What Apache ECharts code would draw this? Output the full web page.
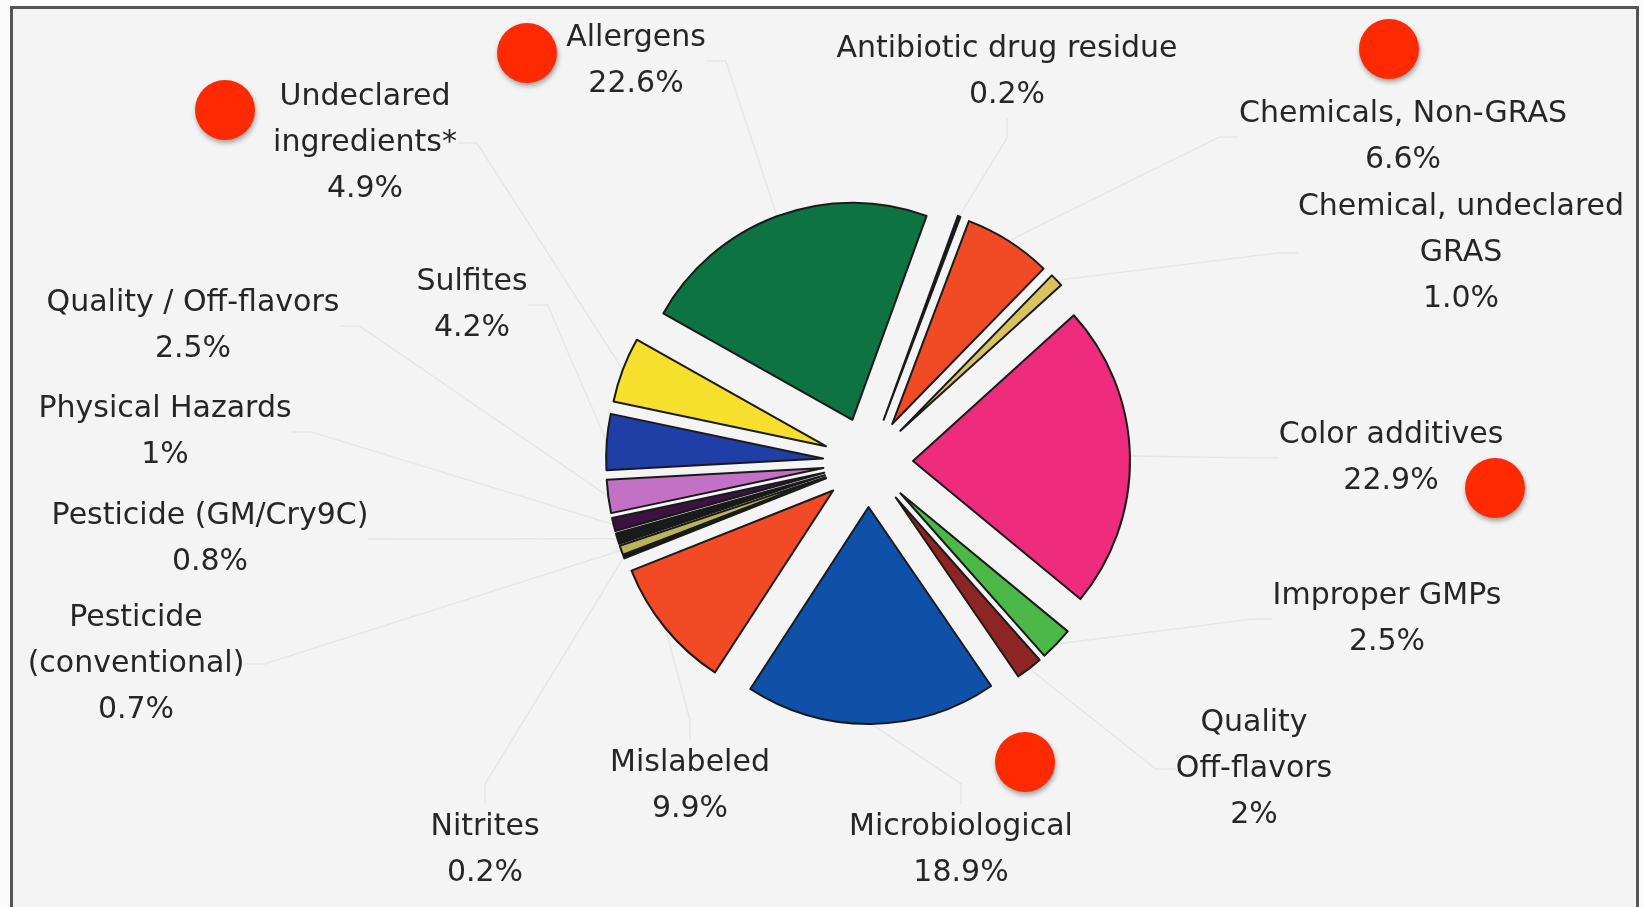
<!DOCTYPE html>
<html><head><meta charset="utf-8">
<script src="https://cdn.jsdelivr.net/npm/echarts@6/dist/echarts.min.js"></script>
<style>html,body{margin:0;padding:0;background:#fbfbfb}#c{width:1644px;height:907px}</style>
</head><body><div id="c"></div>
<script>
// Slices in clockwise order starting near 12 o'clock
const categories = [
  'Antibiotic drug residue', 'Chemicals, Non-GRAS', 'Chemical, undeclared\nGRAS',
  'Color additives', 'Improper GMPs', 'Quality\nOff-flavors', 'Microbiological',
  'Mislabeled', 'Nitrites', 'Pesticide\n(conventional)', 'Pesticide (GM/Cry9C)',
  'Physical Hazards', 'Quality / Off-flavors', 'Sulfites', 'Undeclared\ningredients*', 'Allergens'
];
const values = [0.2, 6.6, 1.0, 22.9, 2.5, 2, 18.9, 9.9, 0.2, 0.7, 0.8, 1, 2.5, 4.2, 4.9, 22.6];
const valueText = ['0.2%', '6.6%', '1.0%', '22.9%', '2.5%', '2%', '18.9%', '9.9%', '0.2%', '0.7%', '0.8%', '1%', '2.5%', '4.2%', '4.9%', '22.6%'];
const sliceColors = ['#1c1c45', '#f04b25', '#d9c35e', '#ef2b7c', '#4cb848', '#8e2424', '#0f50a8',
  '#f24a24', '#141414', '#b9b65a', '#1a1a1a', '#3b1242', '#c271c4', '#1f3ea6', '#f7df2e', '#0d7342'];
// label block centres (layout only)
const labelPos = [[1007,72],[1403,137],[1461,253],[1391,458],[1387,619],[1254,769],[961,850],
  [690,786],[485,850],[136,664],[210,539],[165,432],[193,326],[472,305],[365,143],[636,61]];
const dots = [[225,110],[527,53],[1389,49],[1495,488],[1025,762]];

const chart = echarts.init(document.getElementById('c'), null, {renderer: 'canvas'});
const pieCenter = [868, 462];
const startAngle = 70;

const sliceData = categories.map((n, i) => ({
  name: n, value: values[i], selected: true,
  itemStyle: {color: sliceColors[i]}
}));
const labelData = categories.map((n, i) => ({
  name: n, value: values[i],
  label: {formatter: n + '\n' + valueText[i]}
}));
const graphic = [{
  type: 'rect', z: -10, silent: true,
  shape: {x: 11.5, y: 7.5, width: 1626, height: 910},
  style: {fill: '#f3f4f3', stroke: '#555', lineWidth: 3}
}].concat(dots.map(d => ({
  type: 'circle', z: 100, silent: true,
  shape: {cx: d[0], cy: d[1], r: 30},
  style: {fill: '#ff2a00', shadowBlur: 5, shadowOffsetY: 3, shadowOffsetX: 1, shadowColor: 'rgba(0,0,0,0.35)'}
})));
chart.setOption({
  backgroundColor: '#fbfbfb',
  animation: false,
  graphic: graphic,
  series: [{
    // label carrier (transparent), behind the exploded slices
    type: 'pie', z: 1, silent: true,
    center: pieCenter, radius: 262, startAngle: startAngle, clockwise: true,
    avoidLabelOverlap: false,
    itemStyle: {color: 'rgba(0,0,0,0)', borderWidth: 0},
    label: {
      show: true, position: 'outside',
      fontFamily: 'DejaVu Sans', fontSize: 30, lineHeight: 46,
      color: '#262626', align: 'center'
    },
    labelLine: {show: true, length: 20, length2: 20, lineStyle: {color: '#e6e6e6', width: 1.5}},
    labelLayout: function (p) {
      const pos = labelPos[p.dataIndex];
      return {x: pos[0], y: pos[1], align: 'center', verticalAlign: 'middle'};
    },
    emphasis: {disabled: true},
    data: labelData
  }, {
    type: 'pie', z: 2,
    center: pieCenter, radius: 217, startAngle: startAngle, clockwise: true,
    selectedMode: 'multiple', selectedOffset: 45,
    itemStyle: {borderColor: '#1a1a1a', borderWidth: 2},
    label: {show: false}, labelLine: {show: false},
    emphasis: {disabled: true},
    data: sliceData
  }]
});
</script></body></html>
